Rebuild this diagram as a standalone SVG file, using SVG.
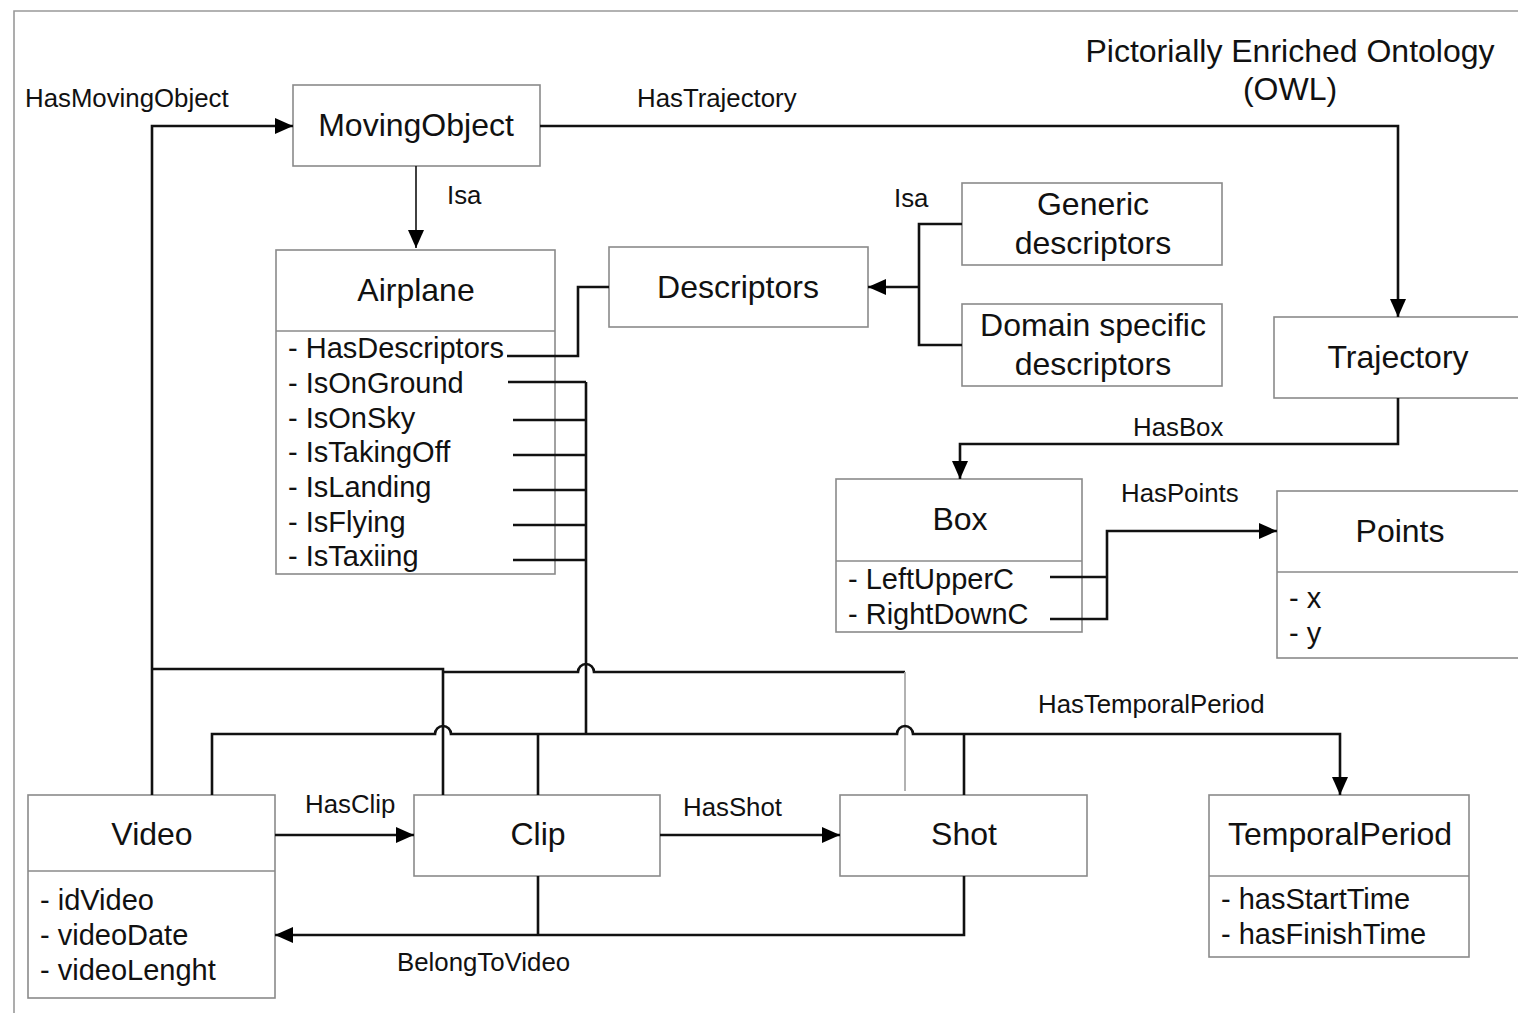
<svg xmlns="http://www.w3.org/2000/svg" width="1518" height="1013" viewBox="0 0 1518 1013">
<style>
text{font-family:"Liberation Sans",Arial,sans-serif;fill:#111}
.t{font-size:32px;text-anchor:middle}
.a{font-size:29px}
.l{font-size:25.8px}
.box{fill:#fff;stroke:#8a8a8a;stroke-width:1.6}
.c{fill:none;stroke:#111;stroke-width:2.6}
.thin{fill:none;stroke:#111;stroke-width:1.6}
.gray{fill:none;stroke:#aaa;stroke-width:1.8}
</style>
<defs>
<marker id="ah" markerUnits="userSpaceOnUse" markerWidth="20" markerHeight="16" refX="18" refY="8" orient="auto">
<path d="M0,0 L18,8 L0,16 Z" fill="#000"/>
</marker>
</defs>
<rect width="1518" height="1013" fill="#fff"/>
<path d="M14,1013 V11 H1518" fill="none" stroke="#999" stroke-width="1.6"/>
<g id="title">
<text class="t" x="1290" y="62">Pictorially Enriched Ontology</text>
<text class="t" x="1290" y="100">(OWL)</text>
</g>
<g id="labels">
<text class="l" x="25" y="107">HasMovingObject</text>
<text class="l" x="447" y="204">Isa</text>
<text class="l" x="894" y="207">Isa</text>
<text class="l" x="637" y="107">HasTrajectory</text>
<text class="l" x="1133" y="436">HasBox</text>
<text class="l" x="1121" y="502">HasPoints</text>
<text class="l" x="1038" y="713">HasTemporalPeriod</text>
<text class="l" x="305" y="813">HasClip</text>
<text class="l" x="683" y="816">HasShot</text>
<text class="l" x="397" y="971">BelongToVideo</text>
</g>
<g id="MovingObject">
<rect class="box" x="293" y="85" width="247" height="81"/>
<text class="t" x="416" y="136">MovingObject</text>
</g>
<g id="Airplane">
<rect class="box" x="276" y="250" width="279" height="324"/>
<line class="box" x1="276" y1="331" x2="555" y2="331"/>
<text class="t" x="416" y="301">Airplane</text>
<text class="a" x="288" y="358">- HasDescriptors</text>
<text class="a" x="288" y="393">- IsOnGround</text>
<text class="a" x="288" y="428">- IsOnSky</text>
<text class="a" x="288" y="462">- IsTakingOff</text>
<text class="a" x="288" y="497">- IsLanding</text>
<text class="a" x="288" y="532">- IsFlying</text>
<text class="a" x="288" y="566">- IsTaxiing</text>
</g>
<g id="Descriptors">
<rect class="box" x="609" y="247" width="259" height="80"/>
<text class="t" x="738" y="298">Descriptors</text>
</g>
<g id="GenericDescriptors">
<rect class="box" x="962" y="183" width="260" height="82"/>
<text class="t" x="1093" y="215">Generic</text>
<text class="t" x="1093" y="254">descriptors</text>
</g>
<g id="DomainSpecificDescriptors">
<rect class="box" x="962" y="304" width="260" height="82"/>
<text class="t" x="1093" y="336">Domain specific</text>
<text class="t" x="1093" y="375">descriptors</text>
</g>
<g id="Trajectory">
<rect class="box" x="1274" y="317" width="260" height="81"/>
<text class="t" x="1398" y="368">Trajectory</text>
</g>
<g id="Box">
<rect class="box" x="836" y="479" width="246" height="153"/>
<line class="box" x1="836" y1="561" x2="1082" y2="561"/>
<text class="t" x="960" y="530">Box</text>
<text class="a" x="848" y="589">- LeftUpperC</text>
<text class="a" x="848" y="624">- RightDownC</text>
</g>
<g id="Points">
<rect class="box" x="1277" y="491" width="260" height="167"/>
<line class="box" x1="1277" y1="572" x2="1537" y2="572"/>
<text class="t" x="1400" y="542">Points</text>
<text class="a" x="1289" y="608">- x</text>
<text class="a" x="1289" y="643">- y</text>
</g>
<g id="Video">
<rect class="box" x="28" y="795" width="247" height="203"/>
<line class="box" x1="28" y1="871" x2="275" y2="871"/>
<text class="t" x="152" y="845">Video</text>
<text class="a" x="40" y="910">- idVideo</text>
<text class="a" x="40" y="945">- videoDate</text>
<text class="a" x="40" y="980">- videoLenght</text>
</g>
<g id="Clip">
<rect class="box" x="414" y="795" width="246" height="81"/>
<text class="t" x="538" y="845">Clip</text>
</g>
<g id="Shot">
<rect class="box" x="840" y="795" width="247" height="81"/>
<text class="t" x="964" y="845">Shot</text>
</g>
<g id="TemporalPeriod">
<rect class="box" x="1209" y="795" width="260" height="162"/>
<line class="box" x1="1209" y1="876" x2="1469" y2="876"/>
<text class="t" x="1340" y="845">TemporalPeriod</text>
<text class="a" x="1221" y="909">- hasStartTime</text>
<text class="a" x="1221" y="944">- hasFinishTime</text>
</g>
<g id="connectors">
<path class="thin" d="M416,166 V248" marker-end="url(#ah)"/>
<path class="c" d="M152,795 V126 H293" marker-end="url(#ah)"/>
<path class="c" d="M540,126 H1398 V317" marker-end="url(#ah)"/>
<path class="c" d="M507,356 H578 V287 H609"/>
<path class="c" d="M962,224 H919 V345 H962"/>
<path class="c" d="M919,287 H868" marker-end="url(#ah)"/>
<path class="c" d="M508,382 H586 M513,420 H586 M513,455 H586 M513,490 H586 M513,525 H586 M513,560 H586 M586,382 V734"/>
<path class="c" d="M1398,398 V444 H960 V479" marker-end="url(#ah)"/>
<path class="c" d="M1050,577 H1107 M1050,619 H1107 V531 H1277" marker-end="url(#ah)"/>
<path class="c" d="M152,669 H443 V795"/>
<path class="c" d="M443,672 H578 A8,8 0 0 1 594,672 H905"/>
<path class="gray" d="M905,672 V791"/>
<path class="c" d="M212,795 V734 H435 A8,8 0 0 1 451,734 H897 A8,8 0 0 1 913,734 H1340 V795" marker-end="url(#ah)"/>
<path class="c" d="M538,734 V795 M964,734 V795"/>
<path class="c" d="M275,835 H414" marker-end="url(#ah)"/>
<path class="c" d="M660,835 H840" marker-end="url(#ah)"/>
<path class="c" d="M538,876 V935 M964,876 V935 H275" marker-end="url(#ah)"/>
</g>
</svg>
